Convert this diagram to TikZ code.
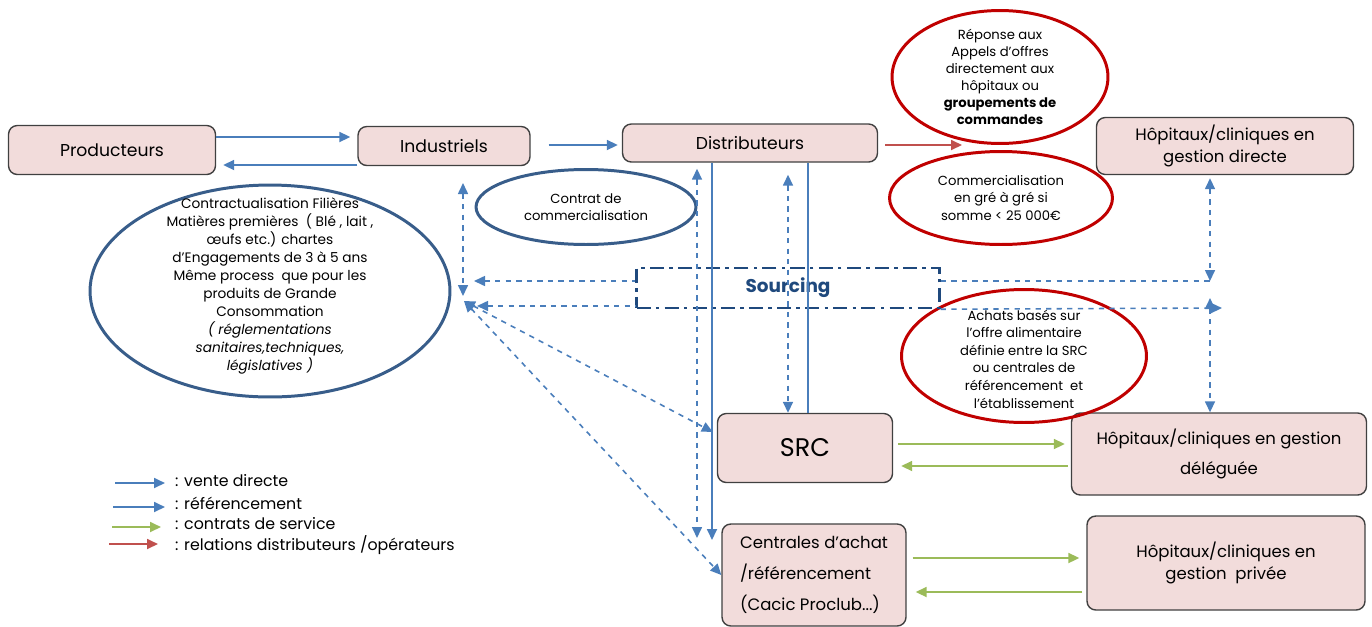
\documentclass[tikz,border=0pt]{standalone}
\usepackage{fontspec}
\setmainfont{Poppins}
\usepackage{xcolor}
\usepackage{tikz}
\usetikzlibrary{shapes,arrows.meta,positioning,calc}

\definecolor{boxpink}{RGB}{242,220,219}
\definecolor{arrblue}{RGB}{74,126,187}
\definecolor{ellblue}{RGB}{56,93,138}
\definecolor{ellred}{RGB}{192,0,0}
\definecolor{arrgreen}{RGB}{155,187,89}
\definecolor{arrred}{RGB}{192,80,77}
\definecolor{srcblue}{RGB}{31,73,125}

\begin{document}
\begin{tikzpicture}[x=0.02cm, y=-0.02cm,
    actor/.style={rectangle, draw=black!75, fill=boxpink, rounded corners=5pt, line width=0.8pt, align=center, inner sep=0pt, font=\fontsize{9.4}{12.5}\selectfont},
    bluebub/.style={ellipse, draw=ellblue, line width=1.7pt, inner sep=0pt},
    redbub/.style={ellipse, draw=ellred, line width=1.7pt, inner sep=0pt},
    bubtext/.style={align=center, font=\fontsize{7.5}{10}\selectfont},
    legtext/.style={anchor=west, font=\fontsize{9}{11}\selectfont},
    vente/.style={draw=arrblue, line width=1pt, -{Triangle[length=2.2mm,width=2mm]}},
    refer/.style={draw=arrblue, line width=0.9pt, dashed, {Triangle[length=2.2mm,width=2mm]}-{Triangle[length=2.2mm,width=2mm]}},
    service/.style={draw=arrgreen, line width=1pt, -{Triangle[length=2.2mm,width=2mm]}},
    relation/.style={draw=arrred, line width=1pt, -{Triangle[length=2.2mm,width=2mm]}}]

    \useasboundingbox (0,0) rectangle (1372,626);

    % acteurs
    \node[actor, minimum width=4.14cm, minimum height=0.98cm, font=\fontsize{9.8}{12}\selectfont] (prod) at (112,150) {Producteurs};
    \node[actor, minimum width=3.44cm, minimum height=0.78cm, font=\fontsize{9.8}{12}\selectfont] (indus) at (444,146) {Industriels};
    \node[actor, minimum width=5.1cm, minimum height=0.76cm, font=\fontsize{9.8}{12}\selectfont] (distrib) at (750,143) {Distributeurs};
    \node[actor, minimum width=5.14cm, minimum height=1.14cm] (hopdir) at (1225,146) {Hôpitaux/cliniques en\\gestion directe};
    \node[actor, minimum width=3.5cm, minimum height=1.38cm, font=\fontsize{14.5}{16}\selectfont] (src) at (805,448) {SRC};
    \node[actor, minimum width=5.9cm, minimum height=1.64cm, font=\fontsize{9.4}{17.5}\selectfont] (hopdel) at (1219,454) {Hôpitaux/cliniques en gestion\\déléguée};
    \node[actor, minimum width=3.68cm, minimum height=2.04cm, align=left, font=\fontsize{9.4}{17.5}\selectfont] (centr) at (814,575) {Centrales d’achat\\/référencement\\(Cacic Proclub...)};
    \node[actor, minimum width=5.56cm, minimum height=1.88cm] (hoppriv) at (1226,563) {Hôpitaux/cliniques en\\gestion\ \ privée};

    % bulles
    \node[bluebub, minimum width=7.2cm, minimum height=4.24cm] (filiere) at (270,291) {};
    \node[bubtext, font=\fontsize{7.8}{10.3}\selectfont] at ($(filiere.center)+(0,-5)$) {Contractualisation Filières\\Matières premières\ \ ( Blé , lait ,\\œufs etc.) chartes\\d’Engagements de 3 à 5 ans\\Même process\ \ que pour les\\produits de Grande\\Consommation\\\textit{( réglementations}\\\textit{sanitaires,techniques,}\\\textit{législatives )}};
    \node[bluebub, minimum width=4.4cm, minimum height=1.5cm] (contrat) at (586,207) {};
    \node[bubtext] at (contrat.center) {Contrat de\\commercialisation};
    \node[redbub, minimum width=4.32cm, minimum height=2.66cm] (appel) at (1000,77) {};
    \node[bubtext, font=\fontsize{7.5}{9.6}\selectfont] at (appel.center) {Réponse aux\\Appels d’offres\\directement aux\\hôpitaux ou\\\textbf{groupements de}\\\textbf{commandes}};
    \node[redbub, minimum width=4.46cm, minimum height=1.86cm] (gre) at (1001,198) {};
    \node[bubtext] at (gre.center) {Commercialisation\\en gré à gré si\\somme < 25 000€};
    \node[redbub, minimum width=4.9cm, minimum height=2.66cm] (achats) at (1024,356) {};
    \node[bubtext] at ($(achats.center)+(0,3)$) {Achats basés sur\\l’offre alimentaire\\définie entre la SRC\\ou centrales de\\référencement\ \ et\\l’établissement};

    % sourcing
    \node[draw=srcblue, line width=1.4pt, dash pattern=on 8pt off 3pt on 2pt off 3pt, minimum width=6.06cm, minimum height=0.8cm, text=srcblue, font=\bfseries\fontsize{10.5}{12}\selectfont] (sourcing) at (788,288) {Sourcing};

    % points libres
    \coordinate (jhaut) at (1210,281);
    \coordinate (jbas) at (1210,298);
    \coordinate (kbas) at (1222,308);
    \coordinate (ka) at (474,281);
    \coordinate (kb) at (477,306);
    \coordinate (kc) at (464,301);
    \coordinate (ia) at (463,183);
    \coordinate (ib) at (463,296);
    \coordinate (redtip) at (962,145);

    % flux du haut
    \draw[vente] (prod.east |- 0,137) -- ($(indus.west |- 0,137)+(-7,0)$);
    \draw[vente] (indus.west |- 0,165) -- ($(prod.east |- 0,165)+(7,0)$);
    \draw[vente] ($(indus.east |- 0,145)+(18,0)$) -- ($(distrib.west |- 0,145)+(-4,0)$);
    \draw[relation] ($(distrib.east |- 0,145)+(7,0)$) -- (redtip);

    % verticales distributeurs
    \draw[refer] ($(697,0 |- distrib.south)+(0,6)$) -- (697,538);
    \draw[vente] (712,0 |- distrib.south) -- (712,540);
    \draw[refer] ($(788,0 |- distrib.south)+(0,12)$) -- (788,0 |- src.north);
    \draw[draw=arrblue, line width=1pt] (808,0 |- distrib.south) -- (808,0 |- src.north);

    % sourcing
    \draw[refer, {Triangle[length=2.2mm,width=2mm]}-] (ka) -- (sourcing.west |- jhaut);
    \draw[refer, {Triangle[length=2.2mm,width=2mm]}-] (kb) -- (sourcing.west |- kb);
    \draw[refer] (ia) -- (ib);
    \draw[refer] (kc) -- ($(src.west)+(-4,-16)$);
    \draw[refer] (kc) -- (centr.west);
    \draw[refer, -] (sourcing.east |- jhaut) -- (jhaut);
    \draw[refer] ($(hopdir.south -| jhaut)+(0,3)$) -- (jhaut);
    \draw[refer, -{Triangle[length=2.2mm,width=2mm]}] (sourcing.south east) -- (kbas);
    \draw[refer] (jbas) -- (hopdel.north -| jbas);

    % contrats de service
    \draw[service] ($(src.east |- 0,444)+(5,0)$) -- ($(hopdel.west |- 0,444)+(-6,0)$);
    \draw[service] ($(hopdel.west |- 0,466)+(-3,0)$) -- ($(src.east |- 0,466)+(8,0)$);
    \draw[service] ($(centr.east |- 0,558)+(6,0)$) -- ($(hoppriv.west |- 0,558)+(-7,0)$);
    \draw[service] ($(hoppriv.west |- 0,592)+(-4,0)$) -- ($(centr.east |- 0,592)+(9,0)$);

    % legende
    \coordinate (lv1) at (115,483);
    \coordinate (lv2) at (165,483);
    \coordinate (lr1) at (113,507);
    \coordinate (lr2) at (165,507);
    \coordinate (ls1) at (112,527);
    \coordinate (ls2) at (161,527);
    \coordinate (ll1) at (109,544);
    \coordinate (ll2) at (158,544);
    \draw[vente] (lv1) -- (lv2);
    \draw[vente] (lr1) -- (lr2);
    \draw[service] (ls1) -- (ls2);
    \draw[relation] (ll1) -- (ll2);
    \node[legtext] (lvt) at (169,481) {: vente directe};
    \node[legtext] (lrt) at (169,503) {: référencement};
    \node[legtext] (lst) at (169,524) {: contrats de service};
    \node[legtext] (llt) at (169,545) {: relations distributeurs /opérateurs};

\end{tikzpicture}
\end{document}
